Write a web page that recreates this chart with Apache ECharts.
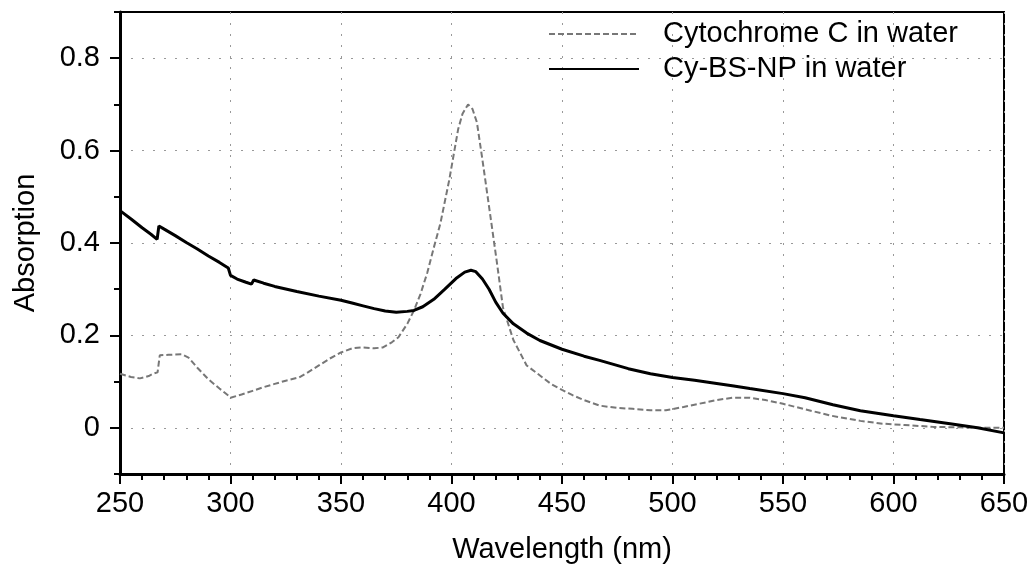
<!DOCTYPE html>
<html>
<head>
<meta charset="utf-8">
<script src="https://cdn.jsdelivr.net/npm/echarts@6/dist/echarts.min.js"></script>
<style>
  html, body { margin: 0; padding: 0; background: #fff; }
  #chart { width: 1033px; height: 572px; }
</style>
</head>
<body>
<div id="chart"></div>
<script>
// Cytochrome C in water (dashed)
const cytoWavelength = [250, 255, 259, 263, 265, 267, 268, 272, 278, 281, 285, 290, 295, 299, 300,
  305, 310, 315, 320, 325, 331, 335, 340, 345, 350, 355, 359, 365, 369, 373, 376, 380, 383, 386,
  389, 392, 395, 399, 403, 405, 407.5, 409.5, 411.5, 414, 417.4, 420.6, 423.3, 428, 434, 439, 445,
  450, 455, 460, 467, 475, 482, 490, 497, 505, 512, 520, 527, 535, 542, 550, 560, 572, 585, 595,
  605, 618, 630, 640, 650]
const cytoAbsorption = [0.117, 0.110, 0.107, 0.112, 0.117, 0.120, 0.157, 0.158, 0.159, 0.152, 0.130,
  0.105, 0.085, 0.070, 0.065, 0.072, 0.080, 0.088, 0.095, 0.102, 0.109, 0.120, 0.135, 0.150, 0.163,
  0.172, 0.174, 0.172, 0.174, 0.185, 0.196, 0.225, 0.254, 0.290, 0.335, 0.390, 0.443, 0.537, 0.646,
  0.680, 0.700, 0.690, 0.661, 0.580, 0.465, 0.356, 0.260, 0.190, 0.135, 0.117, 0.095, 0.082, 0.070,
  0.060, 0.048, 0.043, 0.041, 0.038, 0.038, 0.045, 0.052, 0.060, 0.065, 0.065, 0.060, 0.052, 0.040,
  0.026, 0.015, 0.009, 0.006, 0.002, 0.001, 0.000, 0.000]

// Cy-BS-NP in water (solid)
const npWavelength = [250, 255, 260, 264, 266.8, 267.6, 270, 275, 280, 285, 290, 295, 299, 300, 303,
  307, 309.5, 310.5, 315, 320, 330, 340, 350, 355, 360, 365, 370, 375, 380, 383, 387, 392, 397, 402,
  406, 408.8, 411, 414, 417, 420, 423.3, 428, 434, 440, 450, 460, 467, 480, 490, 500, 510, 520, 527,
  535, 550, 560, 572.6, 585, 600, 612, 625.6, 638, 650]
const npAbsorption = [0.470, 0.452, 0.433, 0.419, 0.408, 0.437, 0.430, 0.416, 0.401, 0.387, 0.372,
  0.358, 0.346, 0.330, 0.322, 0.315, 0.311, 0.320, 0.313, 0.306, 0.295, 0.285, 0.276, 0.270, 0.264,
  0.258, 0.253, 0.250, 0.252, 0.254, 0.262, 0.278, 0.300, 0.323, 0.337, 0.341, 0.338, 0.322, 0.300,
  0.272, 0.248, 0.225, 0.205, 0.189, 0.170, 0.155, 0.146, 0.128, 0.117, 0.109, 0.103, 0.096, 0.091,
  0.085, 0.074, 0.065, 0.050, 0.037, 0.026, 0.018, 0.009, 0.000, -0.011]

const yTickValues = [0, 0.2, 0.4, 0.6, 0.8]
const seriesNames = ['Cytochrome C in water', 'Cy-BS-NP in water']

const pairs = (xs, ys) => xs.map((x, i) => [x, ys[i]])

const FONT = "'Liberation Sans', Arial, Helvetica, sans-serif"
const chart = echarts.init(document.getElementById('chart'))

const option = {
  animation: false,
  textStyle: { fontFamily: FONT, color: '#000' },
  grid: {
    left: 120,
    right: 29,
    top: 12,
    bottom: 98,
    show: true,
    borderColor: '#000',
    borderWidth: 2
  },
  legend: {
    orient: 'vertical',
    left: 543,
    top: 14,
    itemWidth: 90,
    itemHeight: 14,
    itemGap: 5,
    data: seriesNames,
    itemStyle: { opacity: 0 },
    textStyle: {
      fontFamily: FONT,
      fontSize: 29,
      color: '#000',
      lineHeight: 30,
      padding: [0, 0, 0, 19]
    }
  },
  xAxis: {
    type: 'value',
    min: 250,
    max: 650,
    interval: 50,
    name: 'Wavelength (nm)',
    nameLocation: 'middle',
    nameGap: 61,
    nameTextStyle: { fontFamily: FONT, fontSize: 29, color: '#000' },
    axisLine: { show: true, onZero: false, lineStyle: { color: '#000', width: 3 } },
    axisTick: { show: true, length: 10, lineStyle: { color: '#000', width: 2 } },
    minorTick: { show: true, splitNumber: 5, length: 6, lineStyle: { color: '#000', width: 2 } },
    axisLabel: { fontFamily: FONT, fontSize: 29, color: '#000', margin: 15 },
    splitLine: { show: true, lineStyle: { color: '#999', type: [2, 9], width: 1 } }
  },
  yAxis: [
    {
      // minor ticks every 0.1
      type: 'value',
      min: -0.1,
      max: 0.9,
      interval: 0.1,
      position: 'left',
      axisLine: { show: true, onZero: false, lineStyle: { color: '#000', width: 3 } },
      axisTick: { show: true, length: 6, lineStyle: { color: '#000', width: 2 } },
      axisLabel: { show: false },
      splitLine: { show: false }
    },
    {
      type: 'value',
      min: -0.1,
      max: 0.9,
      interval: 0.1,
      position: 'left',
      name: 'Absorption',
      nameLocation: 'middle',
      nameGap: 80,
      nameTextStyle: { fontFamily: FONT, fontSize: 29, color: '#000' },
      axisLine: { show: false, onZero: false },
      axisTick: { show: true, length: 10, customValues: yTickValues, lineStyle: { color: '#000', width: 2 } },
      axisLabel: {
        fontFamily: FONT, fontSize: 29, color: '#000', margin: 20,
        customValues: yTickValues,
        formatter: v => (Math.abs(v) < 1e-9 ? '0' : String(Math.round(v * 10) / 10))
      },
      splitLine: { show: true, lineStyle: { color: '#999', type: [2, 9], width: 1 } }
    }
  ],
  series: [
    {
      name: seriesNames[0],
      type: 'line',
      yAxisIndex: 0,
      symbol: 'none',
      data: pairs(cytoWavelength, cytoAbsorption),
      lineStyle: { color: '#777', width: 2, type: [6, 3] },
      itemStyle: { color: '#777' }
    },
    {
      name: seriesNames[1],
      type: 'line',
      yAxisIndex: 0,
      symbol: 'none',
      data: pairs(npWavelength, npAbsorption),
      lineStyle: { color: '#000', width: 3 },
      itemStyle: { color: '#000' }
    }
  ]
}

chart.setOption(option)
</script>
</body>
</html>
